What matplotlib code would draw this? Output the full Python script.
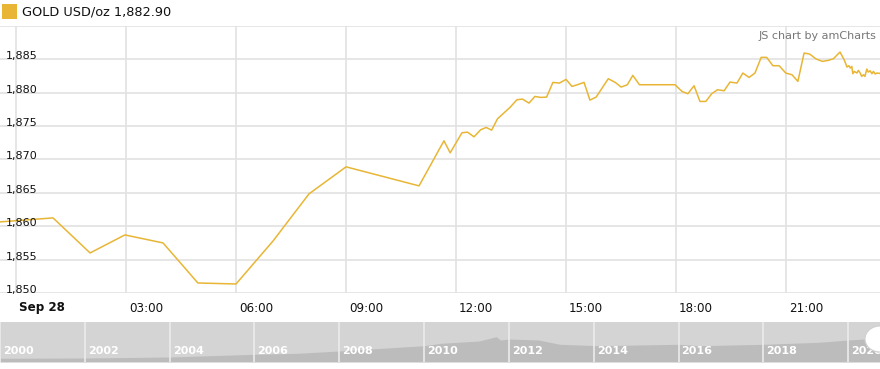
import numpy as np
import matplotlib.pyplot as plt
from matplotlib.patches import Rectangle, Ellipse

# ---------------- data ----------------
# intraday gold price, hours since Sep 28 00:00
hours = [-0.44, 1.01, 2.02, 2.97, 4.01, 4.96, 6.0, 7.01, 7.99, 9.0, 10.99, 11.67, 11.84,
         12.16, 12.31, 12.49, 12.67, 12.82, 12.97, 13.13, 13.30, 13.47, 13.66, 13.81,
         13.99, 14.15, 14.31, 14.47, 14.64, 14.82, 15.0, 15.16, 15.31, 15.49, 15.65,
         15.82, 16.15, 16.34, 16.50, 16.67, 16.82, 17.0, 17.97, 18.16, 18.32, 18.49,
         18.65, 18.81, 18.97, 19.13, 19.31, 19.47, 19.66, 19.82, 19.99, 20.15, 20.32,
         20.47, 20.64, 20.81, 20.99, 21.16, 21.32, 21.49, 21.64, 21.82, 21.99, 22.15,
         22.29, 22.47, 22.59, 22.66, 22.71, 22.75, 22.79, 22.82, 22.86, 22.93, 22.97,
         23.02, 23.06, 23.11, 23.15, 23.20, 23.24, 23.29, 23.34, 23.38, 23.43, 23.47, 23.56]
price = [1860.65, 1861.25, 1856.0, 1858.7, 1857.5, 1851.5, 1851.35, 1857.8, 1864.85,
         1868.9, 1866.05, 1872.8, 1871.0, 1874.0, 1874.1, 1873.4, 1874.45, 1874.8,
         1874.4, 1876.1, 1876.95, 1877.8, 1878.95, 1879.05, 1878.45, 1879.45, 1879.3,
         1879.35, 1881.55, 1881.45, 1882.0, 1880.95, 1881.2, 1881.55, 1878.9, 1879.35,
         1882.1, 1881.55, 1880.85, 1881.2, 1882.6, 1881.2, 1881.2, 1880.2, 1879.85,
         1881.05, 1878.7, 1878.7, 1879.85, 1880.45, 1880.3, 1881.6, 1881.45, 1882.95,
         1882.3, 1882.95, 1885.3, 1885.3, 1884.05, 1884.05, 1882.95, 1882.7, 1881.7,
         1885.95, 1885.8, 1885.05, 1884.7, 1884.85, 1885.1, 1886.1, 1884.85, 1883.85,
         1884.05, 1883.7, 1883.95, 1882.85, 1883.2, 1882.95, 1883.35, 1882.95, 1882.45,
         1882.7, 1882.45, 1883.55, 1883.1, 1883.3, 1882.85, 1883.2, 1882.8, 1882.95, 1882.9]

y_ticks = [1850, 1855, 1860, 1865, 1870, 1875, 1880, 1885]
x_ticks = [0, 3, 6, 9, 12, 15, 18, 21]
x_labels = ["Sep 28", "03:00", "06:00", "09:00", "12:00", "15:00", "18:00", "21:00"]

# long-term series in the scrollbar
scroll_years = [2000, 2002, 2004, 2006, 2007, 2008, 2009, 2010, 2010.4, 2011.3, 2011.7,
                2011.8, 2012, 2012.7, 2013.2, 2014.1, 2016, 2016.5, 2018, 2019.3, 2020, 2020.75]
scroll_vals = [294, 317, 397, 611, 690, 873, 1087, 1294, 1484, 1667, 2008, 1746, 1825,
               1746, 1405, 1294, 1405, 1294, 1405, 1563, 1746, 1900]
scroll_labels = list(range(2000, 2021, 2))

GOLD = "#E8B634"
GRID = "#e2e2e2"
W, H = 880, 369

fig = plt.figure(figsize=(W / 100, H / 100), dpi=100)

# ---------------- main chart ----------------
ax = fig.add_axes([0, (H - 293) / H, 1, 267 / H])
ax.set_xlim(-0.436, 23.56)
ax.set_ylim(1850, 1890)
for v in y_ticks + [1890]:
    ax.axhline(v, color=GRID, lw=1.2, zorder=1)
for h in x_ticks:
    ax.axvline(h, color=GRID, lw=1.2, zorder=1)
ax.plot(hours, price, color=GOLD, lw=1.1, zorder=3)
ax.axis("off")

for v in y_ticks:
    ax.annotate(f"{v:,}", (0, v), xycoords=("axes fraction", "data"),
                xytext=(6, 0), textcoords="offset pixels",
                ha="left", va="baseline", fontsize=8, color="#111111")

for h, lab in zip(x_ticks, x_labels):
    ax.annotate(lab, (h, 0), xycoords=("data", "axes fraction"),
                xytext=(3, -15), textcoords="offset pixels",
                ha="left", va="center", fontsize=8.6, color="#111111",
                fontweight="bold" if lab.startswith("Sep") else "normal")

# watermark
fig.text(876 / W, 1 - 36 / H, "JS chart by amCharts", ha="right", va="center",
         fontsize=8, color="#777777")

# legend
fig.patches.append(Rectangle((2 / W, 1 - 19 / H), 15 / W, 15 / H, transform=fig.transFigure,
                             facecolor=GOLD, edgecolor="none"))
fig.text(22 / W, 1 - 12 / H, "GOLD USD/oz 1,882.90", ha="left", va="center",
         fontsize=9.3, color="#111111")

# ---------------- scrollbar ----------------
sx = fig.add_axes([0, (H - 362) / H, 1, 40 / H])
sx.set_xlim(2000, 2020.75)
sx.set_ylim(0, 3175)
sx.set_facecolor("#d4d4d4")
sx.fill_between(scroll_years, scroll_vals, 0, color="#bcbcbc", lw=0)
for yr in scroll_labels:
    sx.axvline(yr, color="#ececec", lw=1.2)
    sx.annotate(str(yr), (yr, 0), xycoords=("data", "axes fraction"),
                xytext=(3, 11), textcoords="offset pixels",
                ha="left", va="center", fontsize=8, fontweight="bold", color="white")
sx.set_xticks([])
sx.set_yticks([])
for s in sx.spines.values():
    s.set_visible(False)

# handle at right end (ellipse in figure coords so it stays round)
handle = Ellipse((880 / W, 1 - 339 / H), 30 / W, 26 / H, transform=fig.transFigure,
                 facecolor="white", edgecolor="#d0d0d0", lw=0.8, zorder=5)
fig.patches.append(handle)

fig.savefig("out.png", dpi=100)
